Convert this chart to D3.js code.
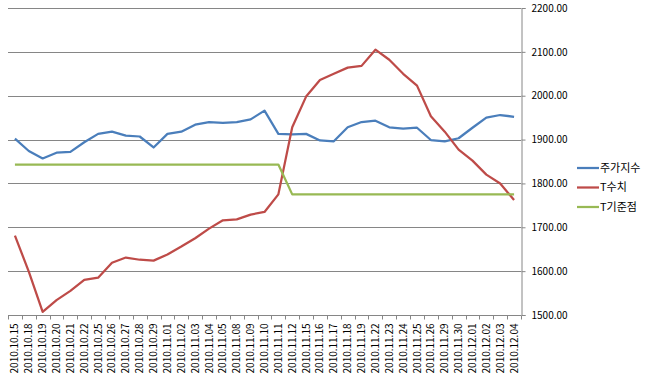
<!DOCTYPE html>
<html>
<head>
<meta charset="utf-8">
<script src="https://cdn.jsdelivr.net/npm/d3@7"></script>
<style>
  body { margin: 0; background: #fff; }
  svg text { font-family: "Noto Sans CJK KR", "Noto Sans", sans-serif; fill: #000; }
</style>
</head>
<body>
<svg id="chart" width="649" height="374"></svg>
<script>
const dates = [
  '2010.10.15','2010.10.18','2010.10.19','2010.10.20','2010.10.21','2010.10.22','2010.10.25',
  '2010.10.26','2010.10.27','2010.10.28','2010.10.29','2010.11.01','2010.11.02','2010.11.03',
  '2010.11.04','2010.11.05','2010.11.08','2010.11.09','2010.11.10','2010.11.11','2010.11.12',
  '2010.11.15','2010.11.16','2010.11.17','2010.11.18','2010.11.19','2010.11.22','2010.11.23',
  '2010.11.24','2010.11.25','2010.11.26','2010.11.29','2010.11.30','2010.12.01','2010.12.02',
  '2010.12.03','2010.12.04'
];
const stockIndex = [
  1902, 1874, 1857, 1870, 1872, 1894, 1913, 1918, 1909, 1907, 1882, 1913, 1918, 1934,
  1940, 1938, 1940, 1946, 1966, 1913, 1912, 1913, 1898, 1896, 1928, 1940, 1943, 1928,
  1925, 1927, 1899, 1896, 1903, 1927, 1950, 1956, 1952
];
const tValue = [
  1681, 1599, 1507, 1534, 1555, 1580, 1585, 1619, 1631, 1626, 1624, 1638, 1656, 1675,
  1697, 1716, 1718, 1729, 1735, 1775, 1928, 1998, 2036, 2050, 2064, 2068, 2105, 2082,
  2050, 2023, 1953, 1918, 1877, 1852, 1820, 1800, 1762
];
const tBase = [
  1843, 1843, 1843, 1843, 1843, 1843, 1843, 1843, 1843, 1843, 1843, 1843, 1843, 1843,
  1843, 1843, 1843, 1843, 1843, 1843, 1775, 1775, 1775, 1775, 1775, 1775, 1775, 1775,
  1775, 1775, 1775, 1775, 1775, 1775, 1775, 1775, 1775
];
const yTicks = [1500, 1600, 1700, 1800, 1900, 2000, 2100, 2200];

const series = [
  { name: '주가지수', values: stockIndex, color: '#4A7EBB' },
  { name: 'T수치', values: tValue, color: '#BE4B48' },
  { name: 'T기준점', values: tBase, color: '#98B954' },
];

const plot = { left: 8, right: 521, top: 8, bottom: 315 };
const svg = d3.select('#chart');

const x = d3.scaleBand().domain(dates).range([plot.left, plot.right]);
const y = d3.scaleLinear().domain([1500, 2200]).range([plot.bottom, plot.top]);

// gridlines
svg.append('g')
  .selectAll('line')
  .data(yTicks.slice(1))
  .join('line')
  .attr('x1', plot.left).attr('x2', plot.right)
  .attr('y1', d => Math.round(y(d)) + 0.5).attr('y2', d => Math.round(y(d)) + 0.5)
  .attr('stroke', '#868686').attr('stroke-width', 1);

// right axis
const yAxis = svg.append('g')
  .attr('transform', `translate(${plot.right + 0.5},0)`)
  .call(d3.axisRight(y).tickValues(yTicks).tickFormat(d3.format('.2f')).tickSize(4).tickPadding(6));
yAxis.select('.domain').attr('stroke', '#868686');
yAxis.selectAll('.tick line').attr('stroke', '#868686');
yAxis.selectAll('.tick text').attr('font-size', 10);

// bottom axis: ticks at category boundaries
const xg = svg.append('g').attr('transform', `translate(0,${Math.round(plot.bottom) + 0.5})`);
xg.append('line')
  .attr('x1', plot.left).attr('x2', plot.right)
  .attr('stroke', '#868686');
xg.selectAll('line.tk')
  .data(dates.map(d => x(d)).concat([plot.right]))
  .join('line')
  .attr('class', 'tk')
  .attr('x1', d => Math.round(d) + 0.5).attr('x2', d => Math.round(d) + 0.5)
  .attr('y1', 0).attr('y2', 4)
  .attr('stroke', '#868686');
xg.selectAll('text')
  .data(dates)
  .join('text')
  .attr('transform', d => `translate(${x(d) + x.bandwidth() / 2 + 3.5},8) rotate(-90)`)
  .attr('text-anchor', 'end')
  .attr('font-size', 10)
  .text(d => d);

// lines
const line = d3.line()
  .x((d, i) => x(dates[i]) + x.bandwidth() / 2)
  .y(d => y(d));

svg.append('g')
  .selectAll('path')
  .data(series)
  .join('path')
  .attr('d', d => line(d.values))
  .attr('fill', 'none')
  .attr('stroke', d => d.color)
  .attr('stroke-width', 2.25)
  .attr('stroke-linejoin', 'round');

// legend
const legend = svg.append('g')
  .selectAll('g')
  .data(series)
  .join('g')
  .attr('transform', (d, i) => `translate(577,${168 + i * 19.5})`);
legend.append('line')
  .attr('x1', 0).attr('x2', 22)
  .attr('stroke', d => d.color).attr('stroke-width', 2.25);
legend.append('text')
  .attr('x', 23).attr('dy', '0.35em')
  .attr('font-size', 11)
  .text(d => d.name);
</script>
</body>
</html>
